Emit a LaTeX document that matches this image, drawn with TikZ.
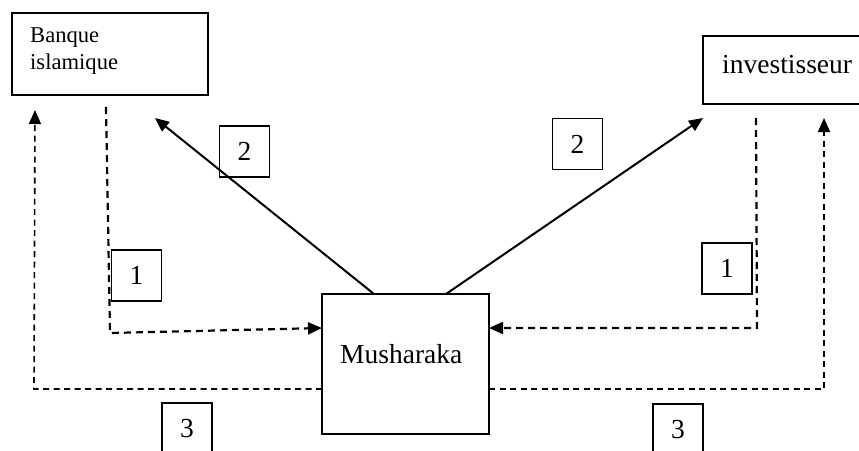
\documentclass[tikz,border=0pt]{standalone}
\usepackage{fontspec}
\setmainfont{Liberation Serif}
\usetikzlibrary{arrows.meta}
\begin{document}
\begin{tikzpicture}[x=1pt,y=-1pt,
  bigbox/.style={draw,line width=1.8pt,inner sep=0pt},
  numbox/.style={draw,line width=1.8pt,inner sep=0pt,minimum width=50pt,minimum height=51pt,font=\fontsize{27.5}{32}\selectfont},
  solidarrow/.style={line width=2pt,-{Triangle[length=14pt,width=12pt]}},
  dashone/.style={line width=2.2pt,dash pattern=on 7pt off 5pt,-{Triangle[length=14pt,width=12pt]}},
  dashthree/.style={line width=1.6pt,dash pattern=on 6pt off 4.5pt,-{Triangle[length=14pt,width=12pt]}},
  bigtext/.style={font=\fontsize{27.5}{32}\selectfont,inner sep=0pt}
]
\useasboundingbox (0,0) rectangle (859,450);
\begin{scope}
\clip (0,0) rectangle (859,450);
% boxes
\node[bigbox,minimum width=196pt,minimum height=82pt] (bank) at (110,54) {};
\node[bigbox,minimum width=160pt,minimum height=68pt] (inv) at (783,70) {};
\node[bigbox,minimum width=167pt,minimum height=140pt] (mush) at (405.5,364) {};
\end{scope}
% texts
\node[anchor=north west,inner sep=0pt,align=left,font=\fontsize{22.6}{27}\selectfont] (banktext) at (30,28) {Banque\\islamique};
\node[bigtext,anchor=base west] (invtext) at (722,73) {investisseur};
\node[bigtext,anchor=base west] (mushtext) at (340,363) {Musharaka};
% number boxes
\node[numbox] (twoL) at (244.5,151.5) {2};
\node[numbox] (twoR) at (577.5,144) {2};
\node[numbox] (oneL) at (136.5,275.5) {1};
\node[numbox] (oneR) at (727,268.5) {1};
\node[numbox] (threeL) at (187,428.5) {3};
\node[numbox] (threeR) at (678,429.5) {3};
% coordinates
\coordinate (m2a) at (374,294);
\coordinate (m2b) at (446,294);
\coordinate (b2tip) at (155,118);
\coordinate (i2tip) at (703,118);
\coordinate (d1Lstart) at (106,107);
\coordinate (d1Lbend) at (110,333);
\coordinate (d1Lend) at (322,328);
\coordinate (d1Rstart) at (756,118);
\coordinate (d1Rbend) at (757,328);
\coordinate (d1Rend) at (489,328);
\coordinate (d3Lstart) at (322,389);
\coordinate (d3Lbend) at (34,389);
\coordinate (d3Ltip) at (35,110);
\coordinate (d3Rstart) at (489,389);
\coordinate (d3Rbend) at (824,389);
\coordinate (d3Rtip) at (824,118);
% solid arrows
\draw[solidarrow] (m2a) -- (b2tip);
\draw[solidarrow] (m2b) -- (i2tip);
% dashed 1
\draw[dashone] (d1Lstart) -- (d1Lbend) -- (d1Lend);
\draw[dashone] (d1Rstart) -- (d1Rbend) -- (d1Rend);
% dashed 3
\draw[dashthree] (d3Lstart) -- (d3Lbend) -- (d3Ltip);
\draw[dashthree] (d3Rstart) -- (d3Rbend) -- (d3Rtip);
\end{tikzpicture}
\end{document}
